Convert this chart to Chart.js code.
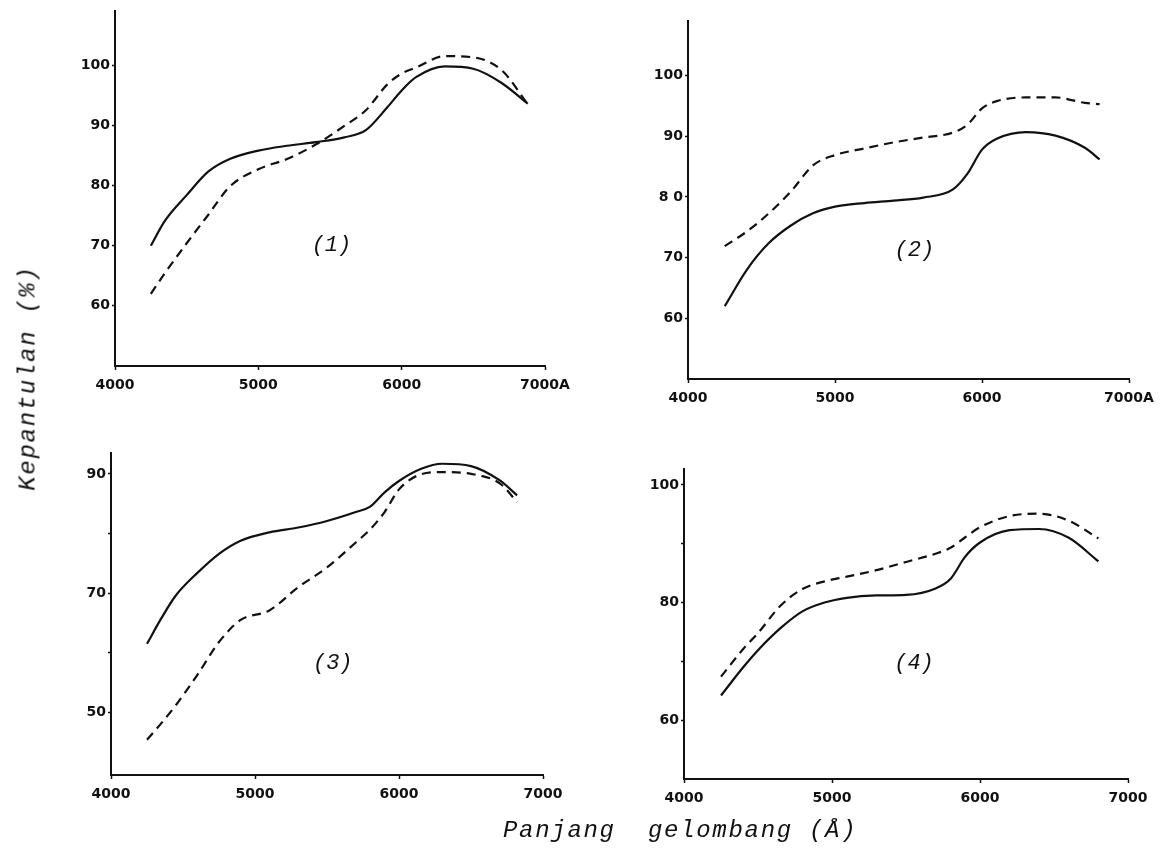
<!DOCTYPE html>
<html lang="id">
<head>
    <meta charset="UTF-8">
    <title>Kepantulan - Panjang gelombang</title>
    <script src="https://cdn.jsdelivr.net/npm/chart.js"></script>
    <style>
        body {
            margin: 0;
            background-color: #ffffff;
        }

        #page {
            position: relative;
            width: 1167px;
            height: 857px;
            overflow: hidden;
            background-color: #ffffff;
        }

        .panel {
            position: absolute;
        }

        .title {
            position: absolute;
            font-family: "Liberation Mono", monospace;
            font-style: italic;
            font-size: 24px;
            letter-spacing: 1.7px;
            color: #111;
            white-space: pre;
        }

        #ytitle {
            left: 28px;
            top: 378px;
            transform: translate(-50%, -50%) rotate(-90deg);
        }

        #xtitle {
            left: 503px;
            top: 817px;
        }
    </style>
</head>
<body>
    <div id="page">
        <div class="panel" id="box1"><canvas id="chart1"></canvas></div>
        <div class="panel" id="box2"><canvas id="chart2"></canvas></div>
        <div class="panel" id="box3"><canvas id="chart3"></canvas></div>
        <div class="panel" id="box4"><canvas id="chart4"></canvas></div>
        <div class="title" id="ytitle">Kepantulan (%)</div>
        <div class="title" id="xtitle">Panjang  gelombang (Å)</div>
    </div>

    <script>
        // Sumbu x (panjang gelombang, Angstrom)
        const xTickValues = [4000, 5000, 6000, 7000];
        const xLabelsTop = ['4000', '5000', '6000', '7000A'];
        const xLabelsBottom = ['4000', '5000', '6000', '7000'];

        // Panel (1)
        const p1Wave   = [4250, 4350, 4500, 4650, 4800, 5000, 5200, 5400, 5600, 5750, 5900, 6000, 6100, 6300, 6500, 6700, 6880];
        const p1Solid  = [70.0, 74.2, 78.4, 82.3, 84.4, 85.8, 86.6, 87.2, 88.0, 89.2, 93.0, 95.8, 98.0, 99.8, 99.4, 97.0, 93.6];
        const p1Dashed = [62.0, 65.5, 70.4, 75.1, 79.8, 82.7, 84.4, 86.8, 89.9, 92.5, 96.8, 98.6, 99.6, 101.5, 101.3, 99.1, 93.5];
        const p1YTicks = [60, 70, 80, 90, 100];
        const p1YLabels = ['60', '70', '80', '90', '100'];

        // Panel (2)
        const p2Wave   = [4250, 4400, 4550, 4700, 4850, 5000, 5200, 5400, 5600, 5800, 5900, 6000, 6100, 6300, 6500, 6700, 6800];
        const p2Solid  = [62.0, 68.0, 72.4, 75.3, 77.3, 78.4, 79.0, 79.4, 79.9, 81.2, 83.8, 87.8, 89.6, 90.7, 90.1, 88.1, 86.2];
        const p2Dashed = [71.9, 74.3, 77.3, 80.9, 85.2, 86.9, 88.0, 89.0, 89.8, 90.6, 91.9, 94.6, 95.8, 96.4, 96.4, 95.5, 95.3];
        const p2YTicks = [60, 70, 80, 90, 100];
        const p2YLabels = ['60', '70', '8 0', '90', '100'];

        // Panel (3)
        const p3Wave   = [4250, 4350, 4450, 4600, 4750, 4900, 5100, 5300, 5500, 5700, 5800, 5900, 6000, 6150, 6300, 6500, 6700, 6820];
        const p3Solid  = [61.5, 65.8, 69.6, 73.4, 76.6, 78.8, 80.2, 81.0, 82.1, 83.6, 84.5, 86.9, 88.8, 90.8, 91.7, 91.3, 88.9, 86.4];
        const p3Dashed = [45.4, 48.2, 51.2, 56.3, 61.8, 65.5, 67.1, 71.0, 74.3, 78.5, 80.7, 83.6, 87.4, 89.9, 90.3, 90.0, 88.4, 85.3];
        const p3YTicks = [50, 60, 70, 80, 90];
        const p3YLabels = ['50', '', '70', '', '90'];

        // Panel (4)
        const p4Wave   = [4250, 4400, 4500, 4650, 4800, 4950, 5100, 5300, 5500, 5700, 5800, 5900, 6000, 6200, 6400, 6600, 6800];
        const p4Solid  = [64.2, 69.0, 71.9, 75.6, 78.5, 80.0, 80.8, 81.2, 81.3, 82.4, 84.0, 87.8, 90.2, 92.3, 92.5, 91.0, 87.0];
        const p4Dashed = [67.4, 72.1, 74.8, 79.4, 82.3, 83.6, 84.4, 85.5, 86.9, 88.3, 89.3, 91.1, 92.8, 94.7, 95.1, 93.9, 90.9];
        const p4YTicks = [60, 70, 80, 90, 100];
        const p4YLabels = ['60', '', '80', '', '100'];

        // marges fixes autour de la zone de tracé
        const AXIS_W = 80, AXIS_H = 45, PAD_TOP = 10, PAD_RIGHT = 55;

        // texte "(1)" ... placé en coordonnées de données
        const panelLabel = {
            id: 'panelLabel',
            afterDatasetsDraw(chart, args, opts) {
                const ctx = chart.ctx;
                ctx.save();
                ctx.font = 'italic 22px "Liberation Mono"';
                ctx.fillStyle = '#111';
                ctx.textAlign = 'center';
                ctx.textBaseline = 'middle';
                ctx.fillText(opts.text, chart.scales.x.getPixelForValue(opts.x), chart.scales.y.getPixelForValue(opts.y));
                ctx.restore();
            }
        };

        function toPoints(wave, vals) {
            return wave.map((w, i) => ({ x: w, y: vals[i] }));
        }

        function makePanel(n, area, wave, solid, dashed, yMin, yMax, yTicks, yLabels, xLabels, label) {
            const box = document.getElementById('box' + n);
            const w = area.right - area.left + AXIS_W + PAD_RIGHT;
            const h = area.bottom - area.top + PAD_TOP + AXIS_H;
            box.style.left = (area.left - AXIS_W) + 'px';
            box.style.top = (area.top - PAD_TOP) + 'px';
            const canvas = document.getElementById('chart' + n);
            canvas.width = w;
            canvas.height = h;

            const tickFont = { family: '"DejaVu Sans"', size: 14, weight: 'bold' };

            return new Chart(canvas.getContext('2d'), {
                type: 'line',
                data: {
                    datasets: [{
                        data: toPoints(wave, solid),
                        borderColor: '#111',
                        borderWidth: 2.2,
                        pointRadius: 0,
                        cubicInterpolationMode: 'monotone'
                    }, {
                        data: toPoints(wave, dashed),
                        borderColor: '#111',
                        borderWidth: 2.2,
                        borderDash: [9, 6],
                        pointRadius: 0,
                        cubicInterpolationMode: 'monotone'
                    }]
                },
                options: {
                    responsive: false,
                    animation: false,
                    layout: { padding: { top: PAD_TOP, right: PAD_RIGHT, left: 0, bottom: 0 } },
                    scales: {
                        x: {
                            type: 'linear',
                            min: 4000,
                            max: 7000,
                            afterBuildTicks: (scale) => { scale.ticks = xTickValues.map(v => ({ value: v })); },
                            afterFit: (scale) => {
                                scale.height = AXIS_H;
                                scale.paddingLeft = 0; scale.paddingRight = 0;
                            },
                            ticks: {
                                color: '#111',
                                font: tickFont,
                                padding: 7,
                                maxRotation: 0,
                                autoSkip: false,
                                callback: (value, index) => xLabels[index]
                            },
                            grid: { drawOnChartArea: false, tickLength: 4, tickColor: '#111', tickWidth: 1.5 },
                            border: { color: '#111', width: 2 }
                        },
                        y: {
                            min: yMin,
                            max: yMax,
                            afterBuildTicks: (scale) => { scale.ticks = yTicks.map(v => ({ value: v })); },
                            afterFit: (scale) => {
                                scale.width = AXIS_W;
                                scale.paddingTop = 0; scale.paddingBottom = 0;
                            },
                            ticks: {
                                color: '#111',
                                font: tickFont,
                                padding: 2,
                                autoSkip: false,
                                callback: (value, index) => yLabels[index]
                            },
                            grid: { drawOnChartArea: false, tickLength: 3, tickColor: '#111', tickWidth: 1.5 },
                            border: { color: '#111', width: 2 }
                        }
                    },
                    plugins: {
                        legend: { display: false },
                        tooltip: { enabled: false },
                        panelLabel: label
                    }
                },
                plugins: [panelLabel]
            });
        }

        makePanel(1, { left: 115, right: 545, top: 11, bottom: 366 }, p1Wave, p1Solid, p1Dashed,
            50, 109, p1YTicks, p1YLabels, xLabelsTop, { text: '(1)', x: 5510, y: 70 });
        makePanel(2, { left: 688, right: 1129, top: 21, bottom: 379 }, p2Wave, p2Solid, p2Dashed,
            50, 109, p2YTicks, p2YLabels, xLabelsTop, { text: '(2)', x: 5540, y: 71.2 });
        makePanel(3, { left: 111, right: 543, top: 453, bottom: 775 }, p3Wave, p3Solid, p3Dashed,
            39.5, 93.5, p3YTicks, p3YLabels, xLabelsBottom, { text: '(3)', x: 5540, y: 58.3 });
        makePanel(4, { left: 684, right: 1128, top: 469, bottom: 779 }, p4Wave, p4Solid, p4Dashed,
            50, 102.7, p4YTicks, p4YLabels, xLabelsBottom, { text: '(4)', x: 5554, y: 69.7 });
    </script>
</body>
</html>
